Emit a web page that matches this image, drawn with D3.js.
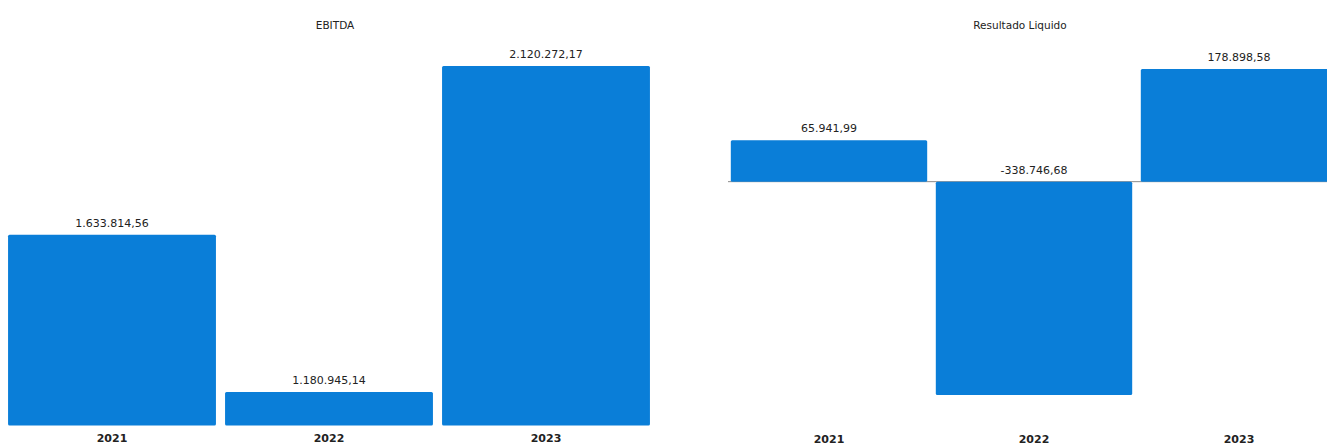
<!DOCTYPE html>
<html>
<head>
<meta charset="utf-8">
<script src="https://cdn.jsdelivr.net/npm/d3@7"></script>
<style>
  html, body { margin: 0; padding: 0; background: #fff; }
  svg { display: block; font-family: "DejaVu Sans", sans-serif; }
</style>
</head>
<body>
<svg id="chart" width="1327" height="446"></svg>
<script>
/* Two small bar panels: EBITDA and Resultado Liquido, by year */
var years = ['2021', '2022', '2023'];
var ebitda = [1633814.56, 1180945.14, 2120272.17];
var resultado = [65941.99, -338746.68, 178898.58];
var titles = ['EBITDA', 'Resultado Liquido'];

var BLUE = '#0a7ed8';
var fmt = function (v) {
  var s = d3.format(',.2f')(v);
  return s.replace(/,/g, '#').replace('.', ',').replace(/#/g, '.').replace('\u2212', '-');
};

var svg = d3.select('#chart');

function panel(opts) {
  var g = svg.append('g');
  var x = d3.scaleBand().domain(years).range(opts.xRange)
    .paddingInner(0.042).paddingOuter(0.021);
  var y = d3.scaleLinear().domain(opts.yDomain).range(opts.yRange);
  var base = opts.base;

  if (opts.zeroLine) {
    g.append('line')
      .attr('x1', opts.zeroLine[0]).attr('x2', opts.zeroLine[1])
      .attr('y1', y(0)).attr('y2', y(0))
      .attr('stroke', '#8a8a8a').attr('stroke-width', 1);
  }

  g.selectAll('rect').data(opts.values).enter().append('rect')
    .attr('x', function (d, i) { return x(years[i]); })
    .attr('width', x.bandwidth())
    .attr('y', function (d) { return y(Math.max(d, base)); })
    .attr('height', function (d) { return Math.abs(y(d) - y(base)); })
    .attr('rx', 1.5)
    .attr('fill', BLUE);

  g.selectAll('text.val').data(opts.values).enter().append('text')
    .attr('class', 'val')
    .attr('x', function (d, i) { return x(years[i]) + x.bandwidth() / 2; })
    .attr('y', function (d) { return y(Math.max(d, base)) - 8; })
    .attr('text-anchor', 'middle')
    .style('font-size', '11px').style('fill', '#222')
    .text(fmt);

  g.selectAll('text.yr').data(years).enter().append('text')
    .attr('class', 'yr')
    .attr('x', function (d) { return x(d) + x.bandwidth() / 2; })
    .attr('y', opts.yearY)
    .attr('text-anchor', 'middle')
    .style('font-size', '11px').style('font-weight', 'bold').style('fill', '#222')
    .text(function (d) { return d; });

  g.append('text')
    .attr('x', opts.titleX).attr('y', 29)
    .attr('text-anchor', 'middle')
    .style('font-size', '10.5px').style('fill', '#222')
    .text(opts.title);
}

panel({
  title: titles[0], titleX: 335,
  values: ebitda, base: 1084400,
  xRange: [3.5, 654.5],
  yDomain: [1084400, 2120272.17], yRange: [425.5, 66],
  yearY: 442
});

panel({
  title: titles[1], titleX: 1020,
  values: resultado, base: 0,
  xRange: [726.5, 1341.5],
  yDomain: [-338746.68, 178898.58], yRange: [395, 69],
  zeroLine: [728, 1327],
  yearY: 443
});
</script>
</body>
</html>
